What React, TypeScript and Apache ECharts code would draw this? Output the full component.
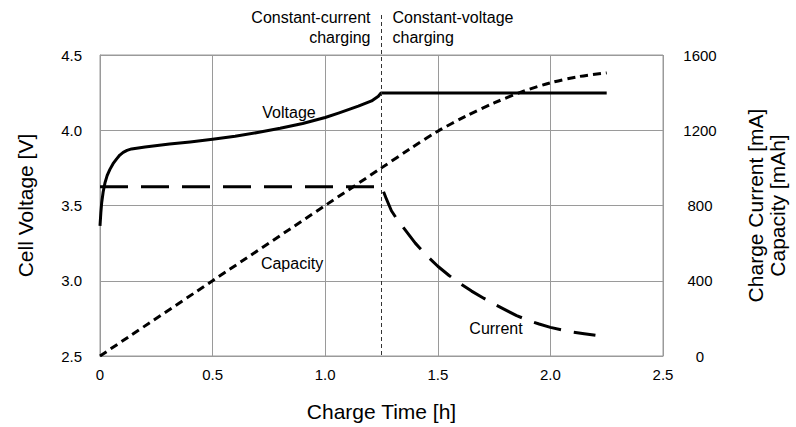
import React, { useEffect, useRef } from "react";
import * as echarts from "echarts";

const voltageData: [number, number][] = [
  [0, 3.364], [0.0037, 3.45], [0.0074, 3.518], [0.014, 3.59], [0.022, 3.65], [0.032, 3.7], [0.044, 3.74],
  [0.058, 3.778], [0.074, 3.81], [0.088, 3.835], [0.103, 3.853], [0.12, 3.866], [0.14, 3.876],
  [0.2, 3.889], [0.309, 3.908], [0.4, 3.922], [0.5, 3.94], [0.6, 3.96], [0.7, 3.985], [0.8, 4.013],
  [0.9, 4.045], [1.0, 4.085], [1.059, 4.114], [1.147, 4.16], [1.206, 4.195], [1.236, 4.226],
  [1.248, 4.248], [2.25, 4.248],
];
const currentData: [number, number][] = [
  [0, 900], [1.25, 900], [1.27, 840], [1.294, 772], [1.32, 725], [1.35, 678], [1.4, 600], [1.45, 535],
  [1.5, 477], [1.55, 428], [1.6, 385], [1.65, 345], [1.7, 310], [1.75, 276], [1.8, 245], [1.85, 215],
  [1.9, 190], [1.95, 170], [2.0, 152], [2.05, 139], [2.1, 127], [2.15, 118], [2.2, 110],
];
const capacityData: [number, number][] = [
  [0, 0], [0.5, 400], [1.0, 800], [1.25, 1000], [1.375, 1100], [1.5, 1195], [1.625, 1275],
  [1.75, 1345], [1.875, 1405], [2.0, 1452], [2.125, 1485], [2.25, 1505],
];
const xTicks = [0, 0.5, 1.0, 1.5, 2.0, 2.5];
const phaseBoundary = 1.25;
const seriesLabels = ["Voltage", "Current", "Capacity"];
const phaseLabels = ["Constant-current\ncharging", "Constant-voltage\ncharging"];

const FONT = "Liberation Sans, Arial, sans-serif";

export default function App() {
  const ref = useRef<HTMLDivElement>(null);
  useEffect(() => {
    if (!ref.current) return;
    const chart = echarts.init(ref.current, null, { renderer: "svg" });
    const gray = "#9a9a9a";
    chart.setOption({
      animation: false,
      textStyle: { fontFamily: FONT },
      grid: { left: 100, top: 55, right: 130, bottom: 69, show: true, borderColor: gray, borderWidth: 1 },
      xAxis: {
        type: "value", min: xTicks[0], max: xTicks[xTicks.length - 1], interval: 0.5,
        name: "Charge Time [h]", nameLocation: "middle", nameGap: 45,
        nameTextStyle: { fontSize: 21, color: "#000", fontFamily: FONT },
        axisLine: { show: true, lineStyle: { color: gray } },
        axisTick: { show: false },
        axisLabel: { fontSize: 15, color: "#000", margin: 11, fontFamily: FONT,
          formatter: (v: number) => (v === 0 ? "0" : v.toFixed(1)) },
        splitLine: { show: true, lineStyle: { color: gray, width: 1 } },
      },
      yAxis: [
        {
          type: "value", min: 2.5, max: 4.5, interval: 0.5,
          name: "Cell Voltage [V]", nameLocation: "middle", nameGap: 64,
          nameTextStyle: { fontSize: 21, color: "#000", fontFamily: FONT },
          axisLine: { show: true, lineStyle: { color: gray } },
          axisTick: { show: false },
          axisLabel: { fontSize: 15, color: "#000", margin: 18, fontFamily: FONT,
            formatter: (v: number) => v.toFixed(1) },
          splitLine: { show: true, lineStyle: { color: gray, width: 1 } },
        },
        {
          type: "value", min: 0, max: 1600, interval: 400, position: "right",
          name: "Charge Current [mA]\nCapacity [mAh]", nameLocation: "middle", nameGap: 81, nameRotate: 90,
          nameTextStyle: { fontSize: 21, color: "#000", fontFamily: FONT, lineHeight: 22, align: "center" },
          axisLine: { show: false },
          axisTick: { show: false },
          axisLabel: { fontSize: 15, color: "#000", margin: 37, align: "center", fontFamily: FONT,
            formatter: (v: number) => String(v) },
          splitLine: { show: false },
        },
      ],
      series: [
        {
          name: seriesLabels[0], type: "line", yAxisIndex: 0, data: voltageData, showSymbol: false,
          smooth: false, lineStyle: { color: "#000", width: 3, join: "round" }, z: 5,
        },
        {
          name: seriesLabels[1], type: "line", yAxisIndex: 1, data: currentData, showSymbol: false,
          smooth: false, lineStyle: { color: "#000", width: 3, type: [28, 13], join: "round" }, z: 4,
        },
        {
          name: seriesLabels[2], type: "line", yAxisIndex: 1, data: capacityData, showSymbol: false,
          smooth: 0.3, lineStyle: { color: "#000", width: 3, type: [8, 5] }, z: 4,
        },
      ],
    });
    const xb = chart.convertToPixel({ xAxisIndex: 0 }, phaseBoundary) as number;
    const yBottom = chart.convertToPixel({ yAxisIndex: 0 }, 2.5) as number;
    const txt = (text: string, x: number, y: number) => ({
      type: "text", x, y, z: 10,
      style: { text, align: "center", verticalAlign: "middle", fill: "#000", font: `16px ${FONT}` },
    });
    chart.setOption({
      graphic: [
        { type: "line", shape: { x1: xb, y1: 15, x2: xb, y2: yBottom }, z: 10,
          style: { stroke: "#333", lineWidth: 1, lineDash: [4, 3] } },
        { type: "text", x: xb - 11, y: 7, z: 10,
          style: { text: phaseLabels[0], align: "right", fill: "#000", font: `16px ${FONT}`, lineHeight: 20 } },
        { type: "text", x: xb + 11, y: 7, z: 10,
          style: { text: phaseLabels[1], align: "left", fill: "#000", font: `16px ${FONT}`, lineHeight: 20 } },
        txt(seriesLabels[0], 289, 112),
        txt(seriesLabels[2], 292, 263),
        txt(seriesLabels[1], 496, 328),
      ],
    });
    return () => chart.dispose();
  }, []);
  return <div ref={ref} style={{ position: "absolute", left: 0, top: 0, width: 796, height: 427 }} />;
}
